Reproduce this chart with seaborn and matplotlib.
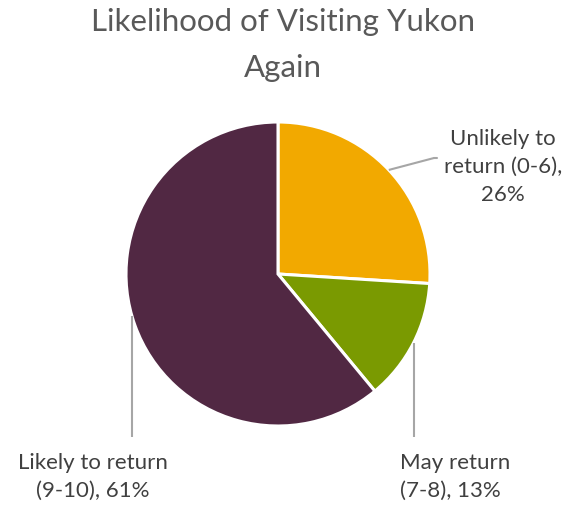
import numpy as np
import matplotlib
matplotlib.use("Agg")
import matplotlib.pyplot as plt
import seaborn as sns

categories = ["Unlikely to return (0-6)", "May return (7-8)", "Likely to return (9-10)"]
shares = [26, 13, 61]
labels = ["Unlikely to\nreturn (0-6),\n26%", "May return\n(7-8), 13%", "Likely to return\n(9-10), 61%"]
colors = ["#F2A900", "#7A9A01", "#512843"]

sns.set_theme(style="white")
plt.rcParams["font.family"] = ["Lato", "DejaVu Sans"]

W, H = 579, 510
fig = plt.figure(figsize=(W / 100, H / 100), dpi=100)
ax = fig.add_axes([0, 0, 1, 1])

cx, cy, r = 278, H - 275, 152
wedges, _ = ax.pie(shares, colors=colors, startangle=90, counterclock=False,
                   center=(cx, cy), radius=r, frame=True,
                   wedgeprops={"edgecolor": "white", "linewidth": 2.2})
ax.set_xlim(0, W)
ax.set_ylim(0, H)
ax.set_aspect("equal")
ax.axis("off")

ax.text(283, H - 45, "Likelihood of Visiting Yukon\nAgain", ha="center", va="center",
        fontsize=22.5, color="#595959", linespacing=1.8)

# leader lines: anchor angle on the rim, elbow point, text position
anchor_deg = [(w.theta1 + w.theta2) / 2 for w in wedges]
anchor_deg[2] = 196
elbows = [(434, H - 159), (414, H - 438), (132, H - 438)]
text_pos = [(503, H - 167, "center"), (400, H - 477, "left"), (93, H - 477, "center")]
for i, (ang, (ex, ey), (tx, ty, ha), lab) in enumerate(zip(anchor_deg, elbows, text_pos, labels)):
    x0 = cx + r * np.cos(np.radians(ang))
    y0 = cy + r * np.sin(np.radians(ang))
    if i > 0:
        x0 = ex
    ax.plot([x0, ex], [y0, ey], color="#A6A6A6", lw=1.5, solid_capstyle="butt")
    if i == 0:
        ax.plot([ex, ex + 3], [ey, ey], color="#A6A6A6", lw=1.5)
    ax.text(tx, ty, lab, ha=ha, va="center", fontsize=16, color="#404040",
            linespacing=1.5, multialignment=ha)

fig.savefig("out.png", dpi=100)
plt.close(fig)
